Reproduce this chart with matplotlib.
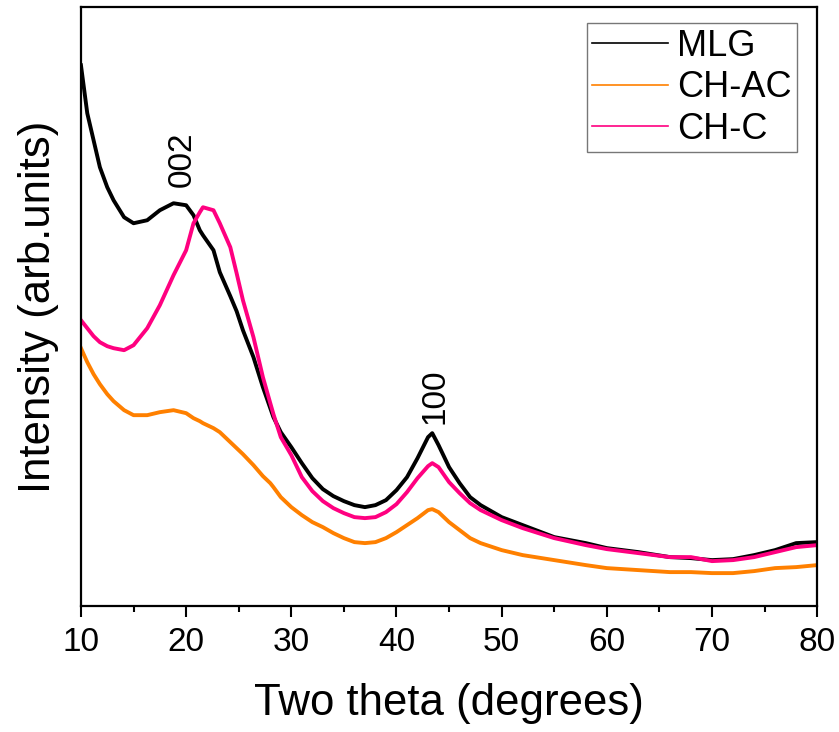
import numpy as np
import matplotlib.pyplot as plt

plt.rcParams['font.family'] = ['Liberation Sans', 'DejaVu Sans']

# two theta positions (degrees)
theta = [10, 10.6, 11.2, 11.8, 12.5, 13.1, 14.1, 15, 16.3, 17.5,
         18.8, 20, 20.7, 21.3, 21.6, 22.6, 23.2, 24.2, 24.8, 25.4,
         26.4, 27.3, 28, 28.3, 29, 30, 31, 32, 33, 34,
         35, 36, 37, 38, 39, 40, 41, 42, 43, 43.4,
         44, 45, 46, 47, 48, 50, 52, 55, 58, 60,
         63, 66, 68, 70, 72, 74, 76, 78, 80]

# intensities (arb. units)
mlg = [541, 493, 466, 439, 419, 406, 389, 383, 386, 396,
       403, 401, 391, 376, 371, 356, 334, 310, 295, 276,
       249, 219, 198, 189, 174, 159, 143, 128, 117, 110,
       105, 101, 99, 101, 106, 116, 129, 148, 169, 173,
       161, 139, 123, 109, 101, 89, 81, 69, 63, 58,
       54, 49, 48, 46, 47, 51, 56, 63, 64]
ch_ac = [258, 244, 232, 222, 212, 205, 196, 191, 191, 194,
         196, 193, 188, 185, 183, 178, 174, 164, 158, 152,
         141, 130, 123, 119, 109, 99, 91, 84, 79, 73,
         68, 64, 63, 64, 68, 74, 81, 88, 96, 97,
         94, 84, 76, 68, 63, 56, 51, 46, 41, 38,
         36, 34, 34, 33, 33, 35, 38, 39, 41]
ch_c = [286, 278, 270, 264, 260, 258, 256, 261, 278, 301,
        331, 356, 383, 394, 399, 396, 383, 359, 333, 306,
        269, 229, 203, 192, 169, 151, 129, 115, 105, 98,
        93, 89, 88, 89, 94, 102, 114, 128, 140, 143,
        139, 124, 113, 103, 96, 86, 78, 68, 61, 57,
        53, 49, 49, 45, 46, 49, 54, 59, 61]

fig = plt.figure(figsize=(8.39, 7.32), dpi=100)
ax = fig.add_axes([0.0965, 0.172, 0.8775, 0.818])

ax.plot(theta, mlg, color='black', lw=2.8, label='MLG')
ax.plot(theta, ch_ac, color='#FF8000', lw=2.8, label='CH-AC')
ax.plot(theta, ch_c, color='#FF0080', lw=2.8, label='CH-C')

ax.set_xlim(10, 80)
ax.set_ylim(0, 599)
ax.set_xticks(np.arange(10, 81, 10))
ax.set_xticks(np.arange(15, 80, 10), minor=True)
ax.set_yticks([])
ax.tick_params(axis='x', which='major', direction='out', length=8, width=1.5,
               labelsize=24, pad=7)
ax.tick_params(axis='x', which='minor', direction='out', length=4.5, width=1.5)
for s in ax.spines.values():
    s.set_linewidth(1.6)

ax.set_xlabel('Two theta (degrees)', fontsize=31.5, labelpad=18)
ax.set_ylabel('Intensity (arb.units)', fontsize=31.5, labelpad=16)

ax.text(19.65, 447, '002', rotation=90, fontsize=24, ha='center', va='center')
ax.text(43.65, 210, '100', rotation=90, fontsize=24, ha='center', va='center')

leg = ax.legend(loc='upper right', bbox_to_anchor=(0.973, 0.973), borderaxespad=0,
                fontsize=26, frameon=True, fancybox=False,
                handlelength=2.1, handletextpad=0.25, borderpad=0.15,
                labelspacing=0.18)
leg.get_frame().set_edgecolor('#555555')
leg.get_frame().set_linewidth(1.0)
for h in leg.get_lines():
    h.set_linewidth(1.2)

fig.savefig('out.png', dpi=100)
